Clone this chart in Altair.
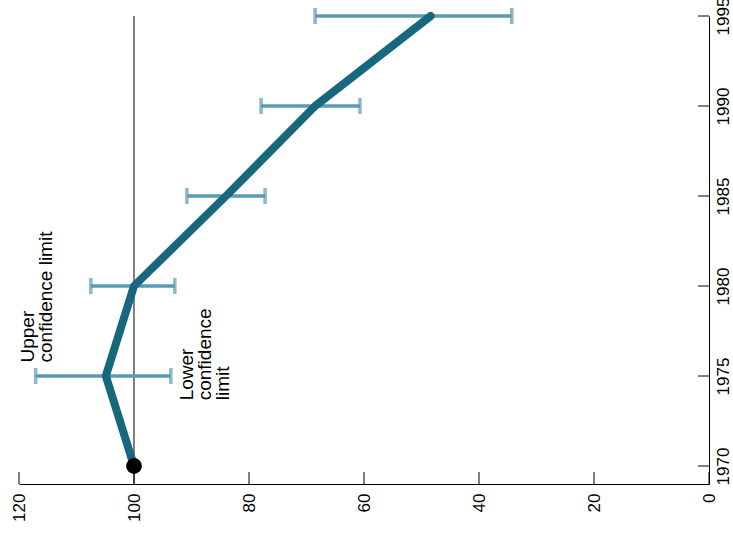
import altair as alt
import pandas as pd

# Index series (1970 = 100) with confidence limits
years = [1970, 1975, 1980, 1985, 1990, 1995]
index_values = [100, 104.9, 100, 84.0, 68.5, 48.4]
upper_limits = [None, 117.1, 107.5, 90.8, 77.9, 68.5]
lower_limits = [None, 93.6, 92.9, 77.2, 60.7, 34.3]

value_ticks = [0, 20, 40, 60, 80, 100, 120]
year_ticks = [1970, 1975, 1980, 1985, 1990, 1995]

LINE = "#17677e"
BAR = "#5b9ab3"
FONT = "Liberation Sans"

df = pd.DataFrame({"year": years, "value": index_values,
                   "upper": upper_limits, "lower": lower_limits})
ci = df.dropna()
base_df = df[df["year"] == 1970]

xs = alt.Scale(domain=[0, 120], reverse=True, nice=False, zero=True)
ys = alt.Scale(domain=[1969, 1995], nice=False, zero=False)

x_axis = alt.Axis(values=value_ticks, labelAngle=270, labelAlign="right",
                  labelBaseline="middle", labelPadding=9, ticks=False,
                  grid=False, domainColor="black", domainWidth=1,
                  labelFont=FONT, labelFontSize=17, labelColor="black",
                  labelFlush=False, labelOverlap=False, title=None)
y_axis = alt.Axis(values=year_ticks, orient="right", format="d",
                  labelAngle=270, labelAlign="center", labelBaseline="top",
                  labelPadding=6, ticks=False, grid=False,
                  domainColor="black", domainWidth=1,
                  labelFont=FONT, labelFontSize=17, labelColor="black",
                  labelFlush=False, labelOverlap=False, title=None)

# vertical reference at 100
ref = alt.Chart(base_df).mark_rule(color="#555555", strokeWidth=1.5).encode(
    x=alt.datum(100, scale=xs, axis=x_axis, type="quantitative"),
    y=alt.datum(1995, scale=ys, axis=y_axis, type="quantitative"),
    y2=alt.datum(1969),
)

# inward tick marks
xticks = alt.Chart(pd.DataFrame({"v": value_ticks})).mark_rule(
    color="black", strokeWidth=1).encode(
    x=alt.X("v:Q", scale=xs, axis=x_axis),
    y=alt.value(468), y2=alt.value(456))
yticks = alt.Chart(pd.DataFrame({"yr": year_ticks})).mark_rule(
    color="black", strokeWidth=1).encode(
    y=alt.Y("yr:Q", scale=ys, axis=y_axis),
    x=alt.value(690), x2=alt.value(679))

bars = alt.Chart(ci).mark_rule(color=BAR, strokeWidth=3.5).encode(
    x=alt.X("lower:Q", scale=xs, axis=x_axis), x2="upper:Q",
    y=alt.Y("year:Q", scale=ys, axis=y_axis))
caps_lo = alt.Chart(ci).mark_tick(color=BAR, orient="vertical", size=16,
                                  thickness=3.5).encode(
    x=alt.X("lower:Q", scale=xs, axis=x_axis),
    y=alt.Y("year:Q", scale=ys, axis=y_axis))
caps_hi = alt.Chart(ci).mark_tick(color=BAR, orient="vertical", size=16,
                                  thickness=3.5).encode(
    x=alt.X("upper:Q", scale=xs, axis=x_axis),
    y=alt.Y("year:Q", scale=ys, axis=y_axis))

line = alt.Chart(df).mark_line(color=LINE, strokeWidth=8, strokeCap="round",
                               strokeJoin="round").encode(
    x=alt.X("value:Q", scale=xs, axis=x_axis),
    y=alt.Y("year:Q", scale=ys, axis=y_axis),
    order="year:Q")

dot = alt.Chart(base_df).mark_circle(color="black", opacity=1, size=250).encode(
    x=alt.X("value:Q", scale=xs, axis=x_axis),
    y=alt.Y("year:Q", scale=ys, axis=y_axis))

upper_note = alt.Chart(base_df).mark_text(
    text=["Upper", "confidence limit"], angle=270, align="left",
    baseline="top", font=FONT, fontSize=19, lineHeight=18, color="black").encode(
    x=alt.datum(120), y=alt.datum(1975.75))
lower_note = alt.Chart(base_df).mark_text(
    text=["Lower", "confidence", "limit"], angle=270, align="left",
    baseline="top", font=FONT, fontSize=19, lineHeight=18, color="black").encode(
    x=alt.datum(92.4), y=alt.datum(1973.65))

chart = alt.layer(ref, xticks, yticks, bars, caps_lo, caps_hi, line, dot,
                  upper_note, lower_note).properties(
    width=690, height=468,
    background="white",
    autosize=alt.AutoSizeParams(type="none"),
    padding={"left": 19, "top": 16, "right": 24, "bottom": 49},
).configure_view(stroke=None)

chart.save("out.html", embed_options={"renderer": "svg", "actions": False})
